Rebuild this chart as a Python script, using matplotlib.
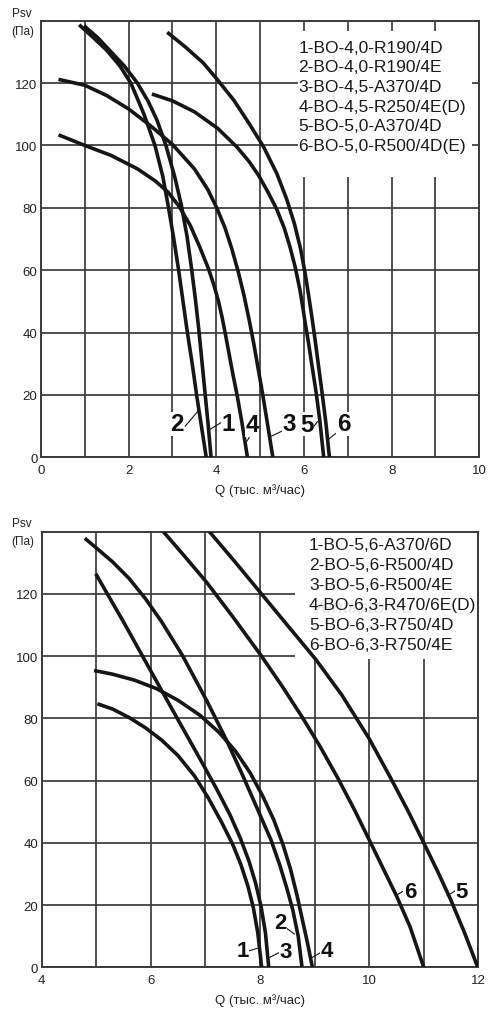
import matplotlib
matplotlib.use('Agg')
import matplotlib.pyplot as plt
from matplotlib.patches import Rectangle

plt.rcParams['font.family'] = ['Liberation Sans', 'DejaVu Sans']

# ---------------- data: upper chart ----------------
top_legend = ["1-BO-4,0-R190/4D", "2-BO-4,0-R190/4E", "3-BO-4,5-A370/4D",
              "4-BO-4,5-R250/4E(D)", "5-BO-5,0-A370/4D", "6-BO-5,0-R500/4D(E)"]
top_q1 = [0.98, 1.3, 1.6, 1.9, 2.2, 2.45, 2.65, 2.85, 3.05, 3.2, 3.33, 3.43, 3.52, 3.6, 3.67, 3.74, 3.81, 3.88]
top_p1 = [138.4, 134.5, 130, 125.5, 120, 114, 108, 100, 90, 81, 71, 61, 51, 41, 31, 21, 11, 0]
top_q2 = [0.87, 1.2, 1.5, 1.8, 2.05, 2.35, 2.6, 2.78, 2.91, 3.03, 3.14, 3.25, 3.34, 3.45, 3.55, 3.66, 3.77]
top_p2 = [138.7, 134.5, 130.5, 125.5, 120, 110, 100, 90, 80, 70, 60, 49, 40, 30, 20, 10, 0]
top_q3 = [0.40, 1.0, 1.5, 2.0, 2.5, 3.0, 3.5, 3.8, 4.01, 4.2, 4.35, 4.5, 4.63, 4.75, 4.86, 4.96, 5.06, 5.17, 5.29]
top_p3 = [121.2, 119.3, 116, 111.7, 106.3, 100.3, 92.5, 86, 80, 73.5, 67, 59.5, 52, 44, 36, 28, 20, 10.5, 0]
top_q4 = [0.40, 1.0, 1.6, 2.2, 2.6, 2.9, 3.15, 3.4, 3.62, 3.82, 3.95, 4.05, 4.13, 4.2, 4.28, 4.38, 4.48, 4.58, 4.71]
top_p4 = [103.4, 100, 96.8, 92.5, 88.7, 85, 80.5, 74.5, 67.5, 60.5, 55, 50, 45, 40, 34, 26.5, 19.5, 11.5, 0]
top_q5 = [2.53, 3.0, 3.5, 4.03, 4.47, 4.75, 4.96, 5.18, 5.38, 5.55, 5.68, 5.8, 5.91, 5.98, 6.04, 6.1, 6.17, 6.27, 6.36, 6.45]
top_p5 = [116.5, 114.3, 110.8, 105.5, 99.5, 94.8, 90.5, 85, 79.5, 73.5, 67.5, 61, 53.5, 47.5, 42, 37, 30.5, 21.5, 12, 0]
top_q6 = [2.88, 3.3, 3.7, 4.03, 4.4, 4.75, 5.08, 5.38, 5.6, 5.78, 5.92, 6.02, 6.1, 6.18, 6.25, 6.33, 6.41, 6.5, 6.58]
top_p6 = [136.3, 131.5, 126.5, 121, 114.5, 107, 99.5, 91, 83, 75, 67, 59.5, 52.5, 45, 38, 29.5, 21, 11, 0]
top_xticks = [0, 2, 4, 6, 8, 10]

# ---------------- data: lower chart ----------------
bot_legend = ["1-BO-5,6-A370/6D", "2-BO-5,6-R500/4D", "3-BO-5,6-R500/4E",
              "4-BO-6,3-R470/6E(D)", "5-BO-6,3-R750/4D", "6-BO-6,3-R750/4E"]
bot_q1 = [5.02, 5.3, 5.6, 5.9, 6.2, 6.5, 6.8, 7.05, 7.3, 7.5, 7.65, 7.78, 7.88, 7.96, 8.03]
bot_p1 = [84.7, 83, 80.3, 77, 73, 68, 61.5, 54.5, 46.5, 39.5, 33, 26, 19, 11, 0]
bot_q2 = [4.79, 5.0, 5.3, 5.6, 5.9, 6.2, 6.58, 7.03, 7.4, 7.7, 7.95, 8.2, 8.36, 8.49, 8.6, 8.7, 8.77]
bot_p2 = [137.9, 134.8, 130.3, 125, 118.5, 111, 100.2, 85.5, 72.5, 61, 51, 41, 33, 25.5, 18.5, 10, 0]
bot_q3 = [4.99, 5.5, 6.0, 6.5, 6.9, 7.2, 7.45, 7.64, 7.8, 7.92, 8.02, 8.1, 8.16]
bot_p3 = [126.5, 111, 95.2, 79.5, 67, 57.5, 49, 41.5, 34, 27, 19.5, 11, 0]
bot_q4 = [4.96, 5.3, 5.7, 6.1, 6.5, 6.9, 7.25, 7.55, 7.82, 8.05, 8.25, 8.42, 8.56, 8.68, 8.78, 8.88, 8.96]
bot_p4 = [95.4, 94.2, 92.3, 89.6, 85.8, 81, 75.5, 69.5, 62.5, 55, 47.5, 39.5, 31.5, 23, 15, 7, 0]
bot_q5 = [7.03, 7.5, 8.0, 8.5, 9.02, 9.5, 10.0, 10.42, 10.72, 11.0, 11.25, 11.5, 11.75, 11.99]
bot_p5 = [140.9, 131.2, 120.6, 110, 99, 87.5, 73.5, 60, 50, 40, 31, 21.5, 11, 0]
bot_q6 = [6.21, 6.6, 7.02, 7.5, 8.02, 8.4, 8.77, 9.1, 9.42, 9.72, 10.0, 10.25, 10.5, 10.75, 11.0]
bot_p6 = [140.4, 132.5, 123.8, 112.7, 100.2, 90.5, 80.5, 71, 61, 51, 41, 32, 23, 13, 0]
bot_xticks = [4, 6, 8, 10, 12]

y_ticks = [0, 20, 40, 60, 80, 100, 120]
curve_names = ["1", "2", "3", "4", "5", "6"]

# ---------------- styling ----------------
GRID = '#3a3a3a'
CURVE = '#161616'
LABEL_FONT = ['Liberation Sans', 'DejaVu Sans']

fig = plt.figure(figsize=(5, 10.2), dpi=100)
ax1 = fig.add_axes([0.082, 0.5507, 0.8766, 0.428])
ax2 = fig.add_axes([0.0834, 0.0507, 0.8732, 0.427])


def style_axes(ax, xmin, xmax, xticks):
    ax.set_xlim(xmin, xmax)
    ax.set_ylim(0, 140)
    ax.set_xticks(xticks)
    ax.set_xticks(range(xmin, xmax + 1), minor=True)
    ax.set_yticks(y_ticks)
    ax.set_axisbelow(True)
    ax.grid(which='both', color=GRID, lw=1.25)
    ax.tick_params(which='both', length=0, labelsize=9.5, colors='#222222')
    ax.tick_params(axis='x', pad=5)
    ax.tick_params(axis='y', pad=2.5)
    for s in ax.spines.values():
        s.set_color(GRID)
        s.set_linewidth(1.4)
    ax.set_xlabel("Q (тыс. м³/час)", fontsize=9.5, labelpad=5, color='#222222')


style_axes(ax1, 0, 10, top_xticks)
style_axes(ax2, 4, 12, bot_xticks)

top_series = [(top_q1, top_p1), (top_q2, top_p2), (top_q3, top_p3),
              (top_q4, top_p4), (top_q5, top_p5), (top_q6, top_p6)]
bot_series = [(bot_q1, bot_p1), (bot_q2, bot_p2), (bot_q3, bot_p3),
              (bot_q4, bot_p4), (bot_q5, bot_p5), (bot_q6, bot_p6)]

for q, p in top_series:
    ax1.plot(q, p, color=CURVE, lw=2.6, solid_capstyle='butt', solid_joinstyle='round', zorder=3)
for q, p in bot_series:
    ax2.plot(q, p, color=CURVE, lw=2.6, solid_capstyle='butt', solid_joinstyle='round', zorder=3)

# legend boxes (white background hiding the grid)
ax1.add_patch(Rectangle((5.87, 89.9), 3.96, 46.9, facecolor='white', edgecolor='none', zorder=1.5))
for i, t in enumerate(top_legend):
    ax1.text(5.87, 131.5 - i * 6.3, t, fontsize=12.5, va='center', ha='left', color='#1a1a1a', zorder=4)

ax2.add_patch(Rectangle((8.65, 99.0), 3.32, 40.6, facecolor='white', edgecolor='none', zorder=1.5))
ax2.text(9.85, 115.5, "Ventilator.ru", fontsize=14, style='italic', color='#e4e4e4',
         ha='center', va='center', zorder=3.5)
for i, t in enumerate(bot_legend):
    ax2.text(8.9, 135.8 - i * 6.4, t, fontsize=12.5, va='center', ha='left', color='#1a1a1a', zorder=4)

# curve number labels with leader lines
top_label_pos = [(4.28, 10.8), (3.10, 10.8), (5.67, 10.8), (4.82, 10.5), (6.06, 10.6), (6.90, 10.8)]
top_leaders = [((3.86, 9.0), (4.13, 11.3)), ((3.29, 10.0), (3.59, 14.9)), ((5.23, 6.6), (5.53, 8.6)),
               ((4.70, 5.2), (4.80, 7.6)), ((6.19, 9.3), (6.31, 11.5)), ((6.56, 5.8), (6.75, 7.9))]
for name, (x, y), (a, b) in zip(curve_names, top_label_pos, top_leaders):
    ax1.plot([a[0], b[0]], [a[1], b[1]], color=CURVE, lw=0.8, zorder=5)
    ax1.text(x, y, name, fontsize=17.5, fontweight='bold', family=LABEL_FONT, ha='center', va='center',
             color='#111111', zorder=6,
             bbox=dict(facecolor='white', edgecolor='none', pad=0.3))

bot_label_pos = [(7.68, 5.3), (8.38, 14.5), (8.47, 5.0), (9.23, 5.3), (11.70, 24.3), (10.75, 24.3)]
bot_leaders = [((7.80, 5.3), (7.95, 6.1)), ((8.49, 12.5), (8.63, 10.7)), ((8.18, 3.2), (8.36, 4.8)),
               ((8.96, 3.2), (9.10, 4.6)), ((11.43, 23.0), (11.58, 24.6)), ((10.48, 23.0), (10.64, 24.6))]
for name, (x, y), (a, b) in zip(curve_names, bot_label_pos, bot_leaders):
    ax2.plot([a[0], b[0]], [a[1], b[1]], color=CURVE, lw=0.8, zorder=5)
    ax2.text(x, y, name, fontsize=16, fontweight='bold', family=LABEL_FONT, ha='center', va='center',
             color='#111111', zorder=6,
             bbox=dict(facecolor='white', edgecolor='none', pad=0.3))

# y-axis titles
for ytop in (14, 524):
    fig.text(21.7 / 500, 1 - ytop / 1020, "Psv", fontsize=8.5, ha='center', va='center', color='#222222')
    fig.text(23 / 500, 1 - (ytop + 18) / 1020, "(Па)", fontsize=8.5, ha='center', va='center', color='#222222')

fig.savefig('out.png', dpi=100, facecolor='white')
